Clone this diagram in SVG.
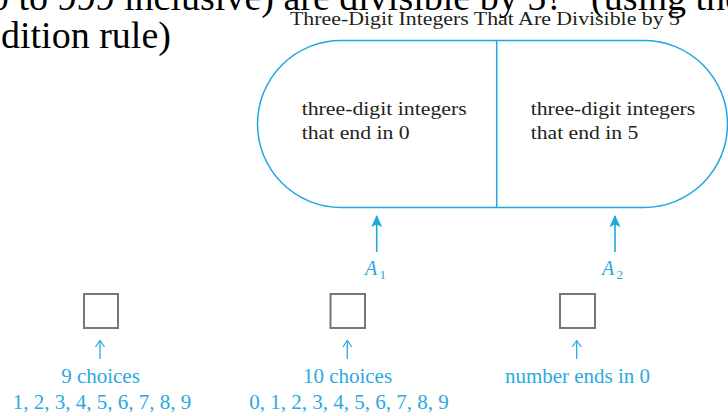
<svg xmlns="http://www.w3.org/2000/svg" width="728" height="416" viewBox="0 0 728 416">
<style>
.big{font-family:"Liberation Serif","Times New Roman",serif;font-size:38px;fill:#000}
.title{font-family:"Liberation Serif","Times New Roman",serif;font-size:19px;fill:#231f20}
.box{font-family:"Liberation Serif","Times New Roman",serif;font-size:19px;fill:#231f20}
.lab{font-family:"Liberation Serif","Times New Roman",serif;font-size:21px;fill:#2aa9e0;text-anchor:middle}
.alab{font-family:"Liberation Serif","Times New Roman",serif;font-size:20px;font-style:italic;fill:#2aa9e0}
.sub{font-family:"Liberation Serif","Times New Roman",serif;font-size:13px;fill:#2aa9e0}
.shape{fill:none;stroke:#1ea7e1;stroke-width:1.5}
.conn{fill:none;stroke:#1ea7e1;stroke-width:1.6}
.small{fill:none;stroke:#2aa9e0;stroke-width:1.3}
.sq{fill:#fff;stroke:#777;stroke-width:2}
</style>
<defs>
<marker id="head" viewBox="0 0 12 12" refX="11" refY="6" markerWidth="12" markerHeight="12" markerUnits="userSpaceOnUse" orient="auto">
<path d="M0,0.5 L12,6 L0,11.5 L2.5,6 z" fill="#1ea7e1"/>
</marker>
<marker id="thin" viewBox="0 0 8 10" refX="7.5" refY="5" markerWidth="8" markerHeight="10" markerUnits="userSpaceOnUse" orient="auto">
<path d="M1,0.5 L7.5,5 L1,9.5" fill="none" stroke="#2aa9e0" stroke-width="1.2"/>
</marker>
</defs>
<g id="heading">
<text class="big" x="-10" y="9.5">0 to 999 inclusive) are divisible by 5?<tspan x="591">(using the</tspan></text>
<text class="big" x="1" y="48">dition rule)</text>
</g>
<g id="title">
<text class="title" x="290" y="25" textLength="390" lengthAdjust="spacingAndGlyphs">Three-Digit Integers That Are Divisible by 5</text>
</g>
<g id="set">
<path class="shape" d="M341,40.5 H644 A83.5,83.5 0 0 1 644,207.5 H341 A83.5,83.5 0 0 1 341,40.5 Z"/>
<line class="shape" x1="496.7" y1="40.5" x2="496.7" y2="207.5"/>
</g>
<g id="A1region">
<text class="box" x="301.7" y="115" textLength="165" lengthAdjust="spacingAndGlyphs">three-digit integers</text>
<text class="box" x="301.7" y="139" textLength="108" lengthAdjust="spacingAndGlyphs">that end in 0</text>
</g>
<g id="A2region">
<text class="box" x="530.7" y="115" textLength="164.5" lengthAdjust="spacingAndGlyphs">three-digit integers</text>
<text class="box" x="530.7" y="139" textLength="107.6" lengthAdjust="spacingAndGlyphs">that end in 5</text>
</g>
<g id="A1label">
<text class="alab" x="365" y="275">A</text><text class="sub" x="379.5" y="279">1</text>
</g>
<g id="A2label">
<text class="alab" x="602" y="275">A</text><text class="sub" x="616.5" y="279">2</text>
</g>
<g id="digit1">
<rect class="sq" x="84" y="294" width="34" height="34"/>
<text class="lab" x="100.5" y="383">9 choices</text>
<text class="lab" x="102" y="409">1, 2, 3, 4, 5, 6, 7, 8, 9</text>
</g>
<g id="digit2">
<rect class="sq" x="330.5" y="294" width="34.5" height="34"/>
<text class="lab" x="347.5" y="383">10 choices</text>
<text class="lab" x="349" y="409">0, 1, 2, 3, 4, 5, 6, 7, 8, 9</text>
</g>
<g id="digit3">
<rect class="sq" x="560" y="294" width="35" height="34"/>
<text class="lab" x="577.5" y="383">number ends in 0</text>
</g>
<g id="connectors">
<line class="conn" x1="376.7" y1="252" x2="376.7" y2="216" marker-end="url(#head)"/>
<line class="conn" x1="615" y1="252" x2="615" y2="216" marker-end="url(#head)"/>
<line class="small" x1="100" y1="359" x2="100" y2="340.5" marker-end="url(#thin)"/>
<line class="small" x1="347.3" y1="359" x2="347.3" y2="340.5" marker-end="url(#thin)"/>
<line class="small" x1="576.7" y1="359" x2="576.7" y2="340.5" marker-end="url(#thin)"/>
</g>
</svg>
